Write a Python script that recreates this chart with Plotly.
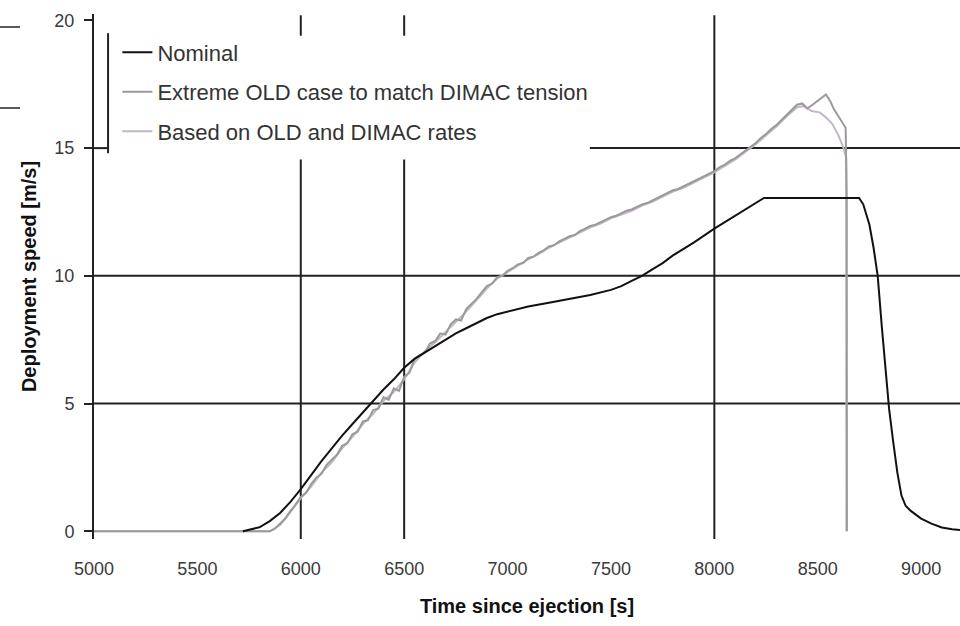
import plotly.graph_objects as go

# ---------------- data ----------------
nominal_t = [5720, 5760, 5800, 5850, 5900, 5950, 6000, 6050, 6100, 6150, 6200, 6250, 6300, 6350,
             6400, 6450, 6500, 6550, 6600, 6650, 6700, 6750, 6800, 6850, 6900, 6950, 7000, 7100,
             7200, 7300, 7400, 7500, 7550, 7600, 7650, 7700, 7750, 7800, 7900, 8000, 8100, 8200,
             8240, 8300, 8400, 8500, 8600, 8700, 8720, 8750, 8770, 8790, 8810, 8830, 8845, 8865,
             8885, 8905, 8925, 8950, 9000, 9050, 9100, 9150, 9188]
nominal_v = [0.0, 0.08, 0.16, 0.4, 0.72, 1.15, 1.65, 2.2, 2.75, 3.25, 3.75, 4.2, 4.65, 5.1,
             5.55, 5.95, 6.4, 6.75, 7.0, 7.25, 7.5, 7.75, 7.95, 8.15, 8.35, 8.5, 8.6, 8.8,
             8.95, 9.1, 9.25, 9.45, 9.6, 9.8, 10.0, 10.25, 10.5, 10.8, 11.3, 11.85, 12.35, 12.85,
             13.05, 13.05, 13.05, 13.05, 13.05, 13.05, 12.8, 12.0, 11.1, 10.0, 8.0, 6.0, 4.8, 3.5,
             2.3, 1.4, 1.0, 0.8, 0.5, 0.3, 0.15, 0.08, 0.05]

extreme_t = [5000, 5850, 5875, 5900, 5925, 5950, 5975, 6000, 6025, 6050, 6075, 6100, 6125, 6150,
             6175, 6200, 6225, 6250, 6275, 6300, 6325, 6350, 6375, 6400, 6425, 6450, 6475, 6500,
             6525, 6550, 6575, 6600, 6625, 6650, 6675, 6700, 6725, 6750, 6775, 6800, 6825, 6850,
             6875, 6900, 6925, 6950, 6975, 7000, 7025, 7050, 7075, 7100, 7125, 7150, 7175, 7200,
             7225, 7250, 7275, 7300, 7325, 7350, 7375, 7400, 7425, 7450, 7475, 7500, 7525, 7550,
             7575, 7600, 7625, 7650, 7675, 7700, 7725, 7750, 7775, 7800, 7825, 7850, 7875, 7900,
             7925, 7950, 7975, 8000, 8025, 8050, 8075, 8100, 8125, 8150, 8175, 8200, 8225, 8250,
             8275, 8300, 8325, 8350, 8375, 8400, 8425, 8450, 8475, 8500, 8525, 8540, 8560, 8580,
             8600, 8620, 8635, 8640, 8641]
extreme_v = [0.0, 0.0, 0.1, 0.3, 0.5, 0.8, 1.05, 1.35, 1.5, 1.85, 2.1, 2.25, 2.6, 2.8,
             3.0, 3.35, 3.45, 3.8, 3.9, 4.3, 4.35, 4.75, 4.8, 5.25, 5.15, 5.6, 5.5, 6.05,
             6.2, 6.75, 6.9, 7.0, 7.35, 7.45, 7.75, 7.7, 8.1, 8.3, 8.25, 8.7, 8.9, 9.1,
             9.35, 9.6, 9.7, 9.95, 10.0, 10.2, 10.3, 10.45, 10.5, 10.7, 10.75, 10.9, 11.0, 11.15,
             11.2, 11.35, 11.45, 11.55, 11.6, 11.75, 11.85, 11.95, 12.0, 12.1, 12.2, 12.3, 12.35, 12.45,
             12.55, 12.6, 12.7, 12.8, 12.85, 12.95, 13.05, 13.15, 13.25, 13.35, 13.4, 13.5, 13.6, 13.7,
             13.8, 13.9, 14.0, 14.1, 14.25, 14.35, 14.5, 14.6, 14.75, 14.9, 15.05, 15.2, 15.4, 15.55,
             15.75, 15.9, 16.1, 16.3, 16.5, 16.7, 16.75, 16.55, 16.7, 16.85, 17.0, 17.1, 16.85, 16.5,
             16.25, 16.0, 15.8, 13.0, 0.0]

based_t = [5000, 5850, 5900, 5950, 6000, 6050, 6100, 6150, 6200, 6250, 6300, 6350, 6400, 6450,
           6500, 6550, 6600, 6650, 6700, 6750, 6800, 6850, 6900, 6950, 7000, 7050, 7100, 7150,
           7200, 7250, 7300, 7350, 7400, 7450, 7500, 7550, 7600, 7650, 7700, 7750, 7800, 7850,
           7900, 7950, 8000, 8050, 8100, 8150, 8200, 8250, 8300, 8350, 8400, 8430, 8470, 8510,
           8540, 8570, 8600, 8625, 8638, 8639]
based_v = [0.0, 0.0, 0.25, 0.75, 1.3, 1.75, 2.3, 2.7, 3.25, 3.7, 4.2, 4.6, 5.1, 5.45,
           5.95, 6.6, 7.05, 7.4, 7.8, 8.2, 8.6, 9.05, 9.5, 9.9, 10.15, 10.4, 10.65, 10.85,
           11.1, 11.3, 11.5, 11.7, 11.9, 12.05, 12.25, 12.4, 12.55, 12.75, 12.9, 13.1, 13.3, 13.45,
           13.65, 13.85, 14.05, 14.3, 14.55, 14.85, 15.15, 15.5, 15.85, 16.25, 16.6, 16.65, 16.45, 16.4,
           16.2, 15.95, 15.5, 15.0, 14.6, 0.0]

x_ticks = [5000, 5500, 6000, 6500, 7000, 7500, 8000, 8500, 9000]
y_ticks = [0, 5, 10, 15, 20]

names = ["Nominal", "Extreme OLD case to match DIMAC tension", "Based on OLD and DIMAC rates"]
colors = ["#111111", "#9a9a9a", "#c6b4c8"]

X_RANGE = [5000, 9188]
Y_RANGE = [-0.3, 20.25]

fig = go.Figure()
# draw order: lightest first, nominal on top; legend order via legendrank
fig.add_trace(go.Scatter(x=based_t, y=based_v, mode="lines", name=names[2],
                         line=dict(color=colors[2], width=2), legendgroup="c", legendrank=3))
fig.add_trace(go.Scatter(x=extreme_t, y=extreme_v, mode="lines", name=names[1],
                         line=dict(color=colors[1], width=2), legendgroup="b", legendrank=2))
fig.add_trace(go.Scatter(x=nominal_t, y=nominal_v, mode="lines", name=names[0],
                         line=dict(color=colors[0], width=2), legendgroup="a", legendrank=1))

grid_col = "#222222"
shapes = []
# horizontal grid lines
for yv, x0 in [(5, 5000), (10, 5000), (15, 7398)]:
    shapes.append(dict(type="line", xref="x", yref="y", x0=x0, x1=X_RANGE[1], y0=yv, y1=yv,
                       line=dict(color=grid_col, width=2), layer="below"))
# short stub of the 15 line left of the legend box
shapes.append(dict(type="line", xref="x", yref="y", x0=5000, x1=5068, y0=15, y1=15,
                   line=dict(color=grid_col, width=2), layer="below"))
# vertical grid lines (6000/6500 interrupted by the legend box)
for xv in [6000, 6500]:
    shapes.append(dict(type="line", xref="x", yref="y", x0=xv, x1=xv, y0=20.2, y1=19.4,
                       line=dict(color=grid_col, width=2), layer="below"))
    shapes.append(dict(type="line", xref="x", yref="y", x0=xv, x1=xv, y0=14.55, y1=-0.3,
                       line=dict(color=grid_col, width=2), layer="below"))
shapes.append(dict(type="line", xref="x", yref="y", x0=8000, x1=8000, y0=20.2, y1=-0.3,
                   line=dict(color=grid_col, width=2), layer="below"))
# legend box left edge
shapes.append(dict(type="line", xref="x", yref="y", x0=5068, x1=5068, y0=19.5, y1=14.8,
                   line=dict(color=grid_col, width=2)))
# scan artifacts at the top-left edge
for py in [27, 108]:
    yy = 1 - (py - 14) / 525
    shapes.append(dict(type="line", xref="paper", yref="paper", x0=-94 / 866, x1=-74 / 866,
                       y0=yy, y1=yy, line=dict(color=grid_col, width=1.5)))

font_fam = "Arial, Liberation Sans, sans-serif"
fig.update_layout(
    width=960, height=626,
    margin=dict(l=94, r=0, t=14, b=87, autoexpand=False),
    paper_bgcolor="white", plot_bgcolor="white",
    font=dict(family=font_fam, color="#333"),
    shapes=shapes,
    showlegend=True,
    legend=dict(x=0.027, y=0.967, xanchor="left", yanchor="top",
                bgcolor="rgba(0,0,0,0)", borderwidth=0,
                font=dict(family=font_fam, size=22, color="#333"),
                traceorder="grouped", tracegroupgap=8, itemwidth=30),
    xaxis=dict(range=X_RANGE, tickvals=x_ticks, ticktext=[str(v) for v in x_ticks],
               showgrid=False, zeroline=False, showline=False,
               ticks="outside", ticklen=13, tickcolor="rgba(0,0,0,0)",
               tickfont=dict(family=font_fam, size=18, color="#3a3a3a"),
               title=dict(text="<b>Time since ejection [s]</b>", standoff=21,
                          font=dict(family=font_fam, size=20, color="#111"))),
    yaxis=dict(range=Y_RANGE, tickvals=y_ticks, showgrid=False, zeroline=False,
               showline=True, linecolor=grid_col, linewidth=2,
               ticks="outside", ticklen=8, tickwidth=2, tickcolor=grid_col,
               ticklabelstandoff=6,
               tickfont=dict(family=font_fam, size=18, color="#3a3a3a"),
               title=dict(text="<b>Deployment speed [m/s]</b>", standoff=12,
                          font=dict(family=font_fam, size=20, color="#111"))),
)

fig.write_html("out.html")
